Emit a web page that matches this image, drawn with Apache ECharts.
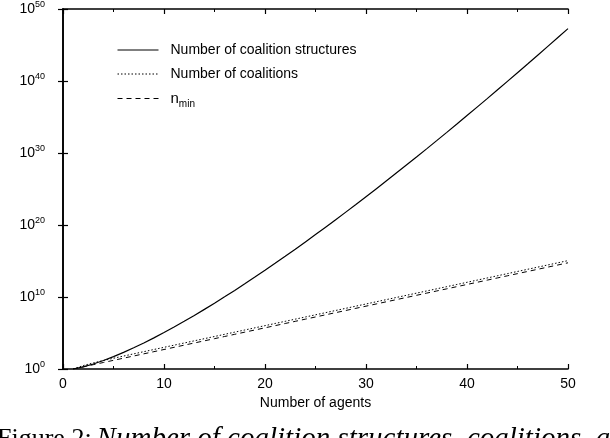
<!DOCTYPE html>
<html>
<head>
<meta charset="utf-8">
<script src="https://cdn.jsdelivr.net/npm/echarts@6/dist/echarts.min.js"></script>
<style>
  html, body { margin: 0; padding: 0; background: #fff; }
  #chart { width: 610px; height: 438px; }
</style>
</head>
<body>
<div id="chart"></div>
<script>
// number of agents
const agents = [1, 2, 3, 4, 5, 6, 7, 8, 9, 10, 11, 12, 13, 14, 15, 16, 17, 18, 19, 20,
  21, 22, 23, 24, 25, 26, 27, 28, 29, 30, 31, 32, 33, 34, 35, 36, 37, 38, 39, 40,
  41, 42, 43, 44, 45, 46, 47, 48, 49, 50]

// number of coalition structures
const structures = [1, 2, 5, 15, 52, 203, 877, 4140, 21147, 115975,
  678570, 4213597, 27644437, 190899322, 1.383e9, 1.048e10, 8.286e10, 6.821e11, 5.833e12, 5.172e13,
  4.749e14, 4.507e15, 4.415e16, 4.460e17, 4.639e18, 4.963e19, 5.455e20, 6.154e21, 7.117e22, 8.467e23,
  1.029e25, 1.281e26, 1.63e27, 2.11e28, 2.79e29, 3.78e30, 5.21e31, 7.35e32, 1.06e34, 1.575e35,
  2.37e36, 3.61e37, 5.61e38, 8.85e39, 1.42e41, 2.31e42, 3.83e43, 6.44e44, 1.10e46, 1.86e47]

// number of coalitions
const coalitions = [1, 3, 7, 15, 31, 63, 127, 255, 511, 1023,
  2047, 4095, 8191, 16383, 32767, 65535, 131071, 262143, 524287, 1048575,
  2.10e6, 4.19e6, 8.39e6, 1.68e7, 3.36e7, 6.71e7, 1.34e8, 2.68e8, 5.37e8, 1.07e9,
  2.15e9, 4.29e9, 8.59e9, 1.72e10, 3.44e10, 6.87e10, 1.37e11, 2.75e11, 5.50e11, 1.10e12,
  2.20e12, 4.40e12, 8.80e12, 1.76e13, 3.52e13, 7.04e13, 1.41e14, 2.81e14, 5.63e14, 1.13e15]

// n_min
const nMin = [1, 2, 4, 8, 16, 32, 64, 128, 256, 512,
  1024, 2048, 4096, 8192, 16384, 32768, 65536, 131072, 262144, 524288,
  1.05e6, 2.10e6, 4.19e6, 8.39e6, 1.68e7, 3.36e7, 6.71e7, 1.34e8, 2.68e8, 5.37e8,
  1.07e9, 2.15e9, 4.29e9, 8.59e9, 1.72e10, 3.44e10, 6.87e10, 1.37e11, 2.75e11, 5.50e11,
  1.10e12, 2.20e12, 4.40e12, 8.80e12, 1.76e13, 3.52e13, 7.04e13, 1.41e14, 2.81e14, 5.63e14]

const seriesNames = ['Number of coalition structures', 'Number of coalitions', 'n_min']
const caption = ['Figure 2:', 'Number of coalition structures, coalitions, a']

const font = "'Liberation Sans', Arial, sans-serif"
const serif = "'Liberation Serif', 'DejaVu Serif', serif"
const ink = '#000'

const pairs = arr => agents.map((a, i) => [a, arr[i]])

const chart = echarts.init(document.getElementById('chart'))

const tickStyle = { show: true, inside: true, length: 5, lineStyle: { color: ink, width: 1.2 } }
const axisLineStyle = { show: true, lineStyle: { color: ink, width: 1.6 } }

const option = {
  animation: false,
  backgroundColor: '#fff',
  title: {
    text: '{r|' + caption[0] + '} {i|' + caption[1] + '}',
    left: -3,
    top: 425,
    padding: 0,
    textStyle: {
      fontWeight: 'normal',
      rich: {
        r: { fontFamily: serif, fontWeight: 'normal', fontSize: 26, color: ink },
        i: { fontFamily: serif, fontWeight: 'normal', fontStyle: 'italic', fontSize: 29, color: ink }
      }
    }
  },
  legend: {
    orient: 'vertical',
    left: 117,
    top: 43,
    padding: 0,
    itemWidth: 41,
    itemHeight: 14,
    itemGap: 10,
    itemStyle: { opacity: 0 },
    lineStyle: { width: 1 },
    textStyle: {
      fontFamily: font,
      fontSize: 14,
      color: ink,
      padding: [0, 0, 0, 7],
      rich: {
        n: { fontFamily: font, fontSize: 15, color: ink },
        sub: { fontFamily: font, fontSize: 10, color: ink, padding: [12, 0, 0, 0] }
      }
    },
    formatter: name => name === 'n_min' ? '{n|n}{sub|min}' : name,
    data: seriesNames
  },
  grid: { left: 63, right: 42, top: 9, bottom: 69 },
  xAxis: [
    {
      type: 'value',
      min: 0,
      max: 50,
      interval: 10,
      name: 'Number of agents',
      nameLocation: 'middle',
      nameGap: 24,
      nameTextStyle: { fontFamily: font, fontSize: 14, color: ink },
      axisLine: axisLineStyle,
      axisTick: tickStyle,
      minorTick: { show: true, splitNumber: 2, length: 3, lineStyle: { color: ink, width: 1 } },
      splitLine: { show: false },
      axisLabel: { fontFamily: font, fontSize: 14, color: ink, margin: 8 }
    },
    {
      type: 'value',
      position: 'top',
      min: 0,
      max: 50,
      interval: 10,
      axisLine: axisLineStyle,
      axisTick: tickStyle,
      minorTick: { show: true, splitNumber: 2, length: 3, lineStyle: { color: ink, width: 1 } },
      splitLine: { show: false },
      axisLabel: { show: false }
    }
  ],
  yAxis: [
    {
      type: 'log',
      logBase: 10,
      min: 1,
      max: 1e50,
      interval: 10,
      axisLine: axisLineStyle,
      axisTick: tickStyle,
      splitLine: { show: false },
      axisLabel: {
        margin: 18,
        formatter: v => '{b|10}{s|' + Math.round(Math.log10(v)) + '}',
        rich: {
          b: { fontFamily: font, fontSize: 14, color: ink, lineHeight: 18 },
          s: { fontFamily: font, fontSize: 9, color: ink, lineHeight: 10, padding: [0, 0, 8, 0] }
        }
      }
    },
    {
      type: 'log',
      logBase: 10,
      position: 'right',
      min: 1,
      max: 1e50,
      interval: 10,
      axisLine: axisLineStyle,
      axisTick: tickStyle,
      splitLine: { show: false },
      axisLabel: { show: false }
    }
  ],
  series: [
    {
      name: seriesNames[0],
      type: 'line',
      data: pairs(structures),
      showSymbol: false,
      symbol: 'none',
      lineStyle: { color: ink, width: 1.2, type: 'solid' },
      itemStyle: { color: ink }
    },
    {
      name: seriesNames[1],
      type: 'line',
      data: pairs(coalitions),
      showSymbol: false,
      symbol: 'none',
      lineStyle: { color: ink, width: 1, type: [1.5, 2] },
      itemStyle: { color: ink }
    },
    {
      name: seriesNames[2],
      type: 'line',
      data: pairs(nMin),
      showSymbol: false,
      symbol: 'none',
      lineStyle: { color: ink, width: 1, type: [5, 4] },
      itemStyle: { color: ink }
    }
  ]
}

chart.setOption(option)
</script>
</body>
</html>
